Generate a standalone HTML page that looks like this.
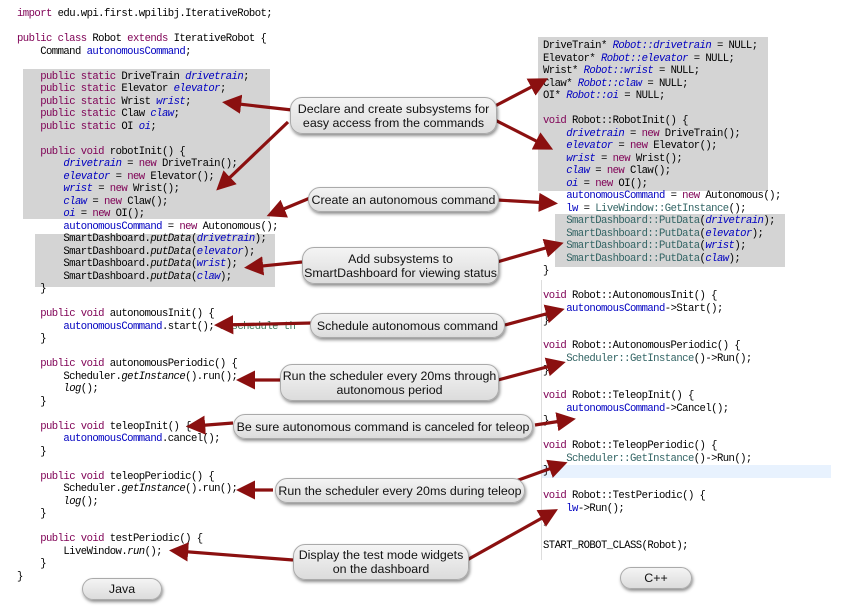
<!DOCTYPE html>
<html><head><meta charset="utf-8"><style>
body{margin:0;width:855px;height:608px;background:#fff;position:relative;overflow:hidden;font-family:"Liberation Sans",sans-serif}
pre{position:absolute;margin:0;font-family:"Liberation Mono",monospace;font-size:10.6px;letter-spacing:-0.56px;line-height:12.5px;color:#000}
.k{color:#7f0055}.f{color:#0000c0;font-style:italic}.c{color:#3f7f5f}.t{color:#326464}
.g{position:absolute;background:#d4d4d4}
.b{position:absolute;border-radius:12px;background:linear-gradient(#f4f4f4,#dcdcdc);border:1px solid #aaa;box-shadow:1px 2px 3px rgba(0,0,0,.45);font-size:12.4px;color:#111;text-align:center;line-height:14px;display:flex;align-items:center;justify-content:center}
</style></head><body>
<div class="g" style="left:23px;top:69px;width:247px;height:150px"></div>
<div class="g" style="left:35px;top:234px;width:240px;height:53px"></div>
<div class="g" style="left:538px;top:37px;width:230px;height:154px"></div>
<div class="g" style="left:555px;top:214px;width:230px;height:53px"></div>
<div style="position:absolute;left:541px;top:465px;width:290px;height:13px;background:#e8f2fe"></div>
<div style="position:absolute;left:541px;top:280px;width:1px;height:280px;background:#ddd"></div>
<pre style="left:17px;top:8px"><span class="k">import</span> edu.wpi.first.wpilibj.IterativeRobot;

<span class="k">public class</span> Robot <span class="k">extends</span> IterativeRobot {
    Command <span class="f" style="font-style:normal">autonomousCommand</span>;

    <span class="k">public static</span> DriveTrain <span class="f">drivetrain</span>;
    <span class="k">public static</span> Elevator <span class="f">elevator</span>;
    <span class="k">public static</span> Wrist <span class="f">wrist</span>;
    <span class="k">public static</span> Claw <span class="f">claw</span>;
    <span class="k">public static</span> OI <span class="f">oi</span>;

    <span class="k">public void</span> robotInit() {
        <span class="f">drivetrain</span> = <span class="k">new</span> DriveTrain();
        <span class="f">elevator</span> = <span class="k">new</span> Elevator();
        <span class="f">wrist</span> = <span class="k">new</span> Wrist();
        <span class="f">claw</span> = <span class="k">new</span> Claw();
        <span class="f">oi</span> = <span class="k">new</span> OI();
        <span class="f" style="font-style:normal">autonomousCommand</span> = <span class="k">new</span> Autonomous();
        SmartDashboard.<i>putData</i>(<span class="f">drivetrain</span>);
        SmartDashboard.<i>putData</i>(<span class="f">elevator</span>);
        SmartDashboard.<i>putData</i>(<span class="f">wrist</span>);
        SmartDashboard.<i>putData</i>(<span class="f">claw</span>);
    }

    <span class="k">public void</span> autonomousInit() {
        <span class="f" style="font-style:normal">autonomousCommand</span>.start(); <span class="c">//schedule th</span>
    }

    <span class="k">public void</span> autonomousPeriodic() {
        Scheduler.<i>getInstance</i>().run();
        <i>log</i>();
    }

    <span class="k">public void</span> teleopInit() {
        <span class="f" style="font-style:normal">autonomousCommand</span>.cancel();
    }

    <span class="k">public void</span> teleopPeriodic() {
        Scheduler.<i>getInstance</i>().run();
        <i>log</i>();
    }

    <span class="k">public void</span> testPeriodic() {
        LiveWindow.<i>run</i>();
    }
}</pre>
<pre style="left:543px;top:40px">DriveTrain* <span class="f">Robot::drivetrain</span> = NULL;
Elevator* <span class="f">Robot::elevator</span> = NULL;
Wrist* <span class="f">Robot::wrist</span> = NULL;
Claw* <span class="f">Robot::claw</span> = NULL;
OI* <span class="f">Robot::oi</span> = NULL;

<span class="k">void</span> Robot::RobotInit() {
    <span class="f">drivetrain</span> = <span class="k">new</span> DriveTrain();
    <span class="f">elevator</span> = <span class="k">new</span> Elevator();
    <span class="f">wrist</span> = <span class="k">new</span> Wrist();
    <span class="f">claw</span> = <span class="k">new</span> Claw();
    <span class="f">oi</span> = <span class="k">new</span> OI();
    <span class="f" style="font-style:normal">autonomousCommand</span> = <span class="k">new</span> Autonomous();
    <span class="f" style="font-style:normal">lw</span> = <span class="t">LiveWindow::GetInstance</span>();
    <span class="t">SmartDashboard::PutData</span>(<span class="f">drivetrain</span>);
    <span class="t">SmartDashboard::PutData</span>(<span class="f">elevator</span>);
    <span class="t">SmartDashboard::PutData</span>(<span class="f">wrist</span>);
    <span class="t">SmartDashboard::PutData</span>(<span class="f">claw</span>);
}

<span class="k">void</span> Robot::AutonomousInit() {
    <span class="f" style="font-style:normal">autonomousCommand</span>-&gt;Start();
}

<span class="k">void</span> Robot::AutonomousPeriodic() {
    <span class="t">Scheduler::GetInstance</span>()-&gt;Run();
}

<span class="k">void</span> Robot::TeleopInit() {
    <span class="f" style="font-style:normal">autonomousCommand</span>-&gt;Cancel();
}

<span class="k">void</span> Robot::TeleopPeriodic() {
    <span class="t">Scheduler::GetInstance</span>()-&gt;Run();
}

<span class="k">void</span> Robot::TestPeriodic() {
    <span class="f" style="font-style:normal">lw</span>-&gt;Run();
}

START_ROBOT_CLASS(Robot);</pre>

<svg width="855" height="608" style="position:absolute;left:0;top:0">
<defs><marker id="a" markerWidth="6" markerHeight="6" refX="3.5" refY="3" orient="auto" markerUnits="strokeWidth"><path d="M0,0 L6,3 L0,6 Z" fill="#8b1010"/></marker></defs>
<g stroke="#8b1010" stroke-width="3.2" fill="none" marker-end="url(#a)">
<line x1="292" y1="110" x2="230" y2="103"/>
<line x1="288" y1="122" x2="222" y2="185"/>
<line x1="495" y1="106" x2="541" y2="82"/>
<line x1="495" y1="120" x2="546" y2="146"/>
<line x1="310" y1="198" x2="274" y2="213"/>
<line x1="497" y1="200" x2="550" y2="203"/>
<line x1="302" y1="262" x2="252" y2="267"/>
<line x1="497" y1="262" x2="556" y2="245"/>
<line x1="312" y1="323" x2="222" y2="325"/>
<line x1="505" y1="325" x2="557" y2="311"/>
<line x1="280" y1="380" x2="244" y2="380"/>
<line x1="498" y1="380" x2="558" y2="364"/>
<line x1="233" y1="423" x2="194" y2="426"/>
<line x1="535" y1="425" x2="568" y2="420"/>
<line x1="273" y1="490" x2="244" y2="490"/>
<line x1="513" y1="482" x2="560" y2="465"/>
<line x1="293" y1="560" x2="177" y2="551"/>
<line x1="467" y1="560" x2="551" y2="513"/>
</g></svg>

<div class="b" style="left:290px;top:97px;width:205px;height:35px">Declare and create subsystems for<br>easy access from the commands</div>
<div class="b" style="left:308px;top:187px;width:189px;height:23px">Create an autonomous command</div>
<div class="b" style="left:302px;top:247px;width:195px;height:35px">Add subsystems to<br>SmartDashboard for viewing status</div>
<div class="b" style="left:310px;top:313px;width:193px;height:23px">Schedule autonomous command</div>
<div class="b" style="left:280px;top:364px;width:217px;height:35px">Run the scheduler every 20ms through<br>autonomous period</div>
<div class="b" style="left:233px;top:414px;width:298px;height:23px">Be sure autonomous command is canceled for teleop</div>
<div class="b" style="left:275px;top:478px;width:248px;height:23px">Run the scheduler every 20ms during teleop</div>
<div class="b" style="left:293px;top:544px;width:174px;height:34px">Display the test mode widgets<br>on the dashboard</div>
<div class="b" style="left:82px;top:578px;width:78px;height:20px">Java</div>
<div class="b" style="left:620px;top:567px;width:70px;height:20px">C++</div>
</body></html>
